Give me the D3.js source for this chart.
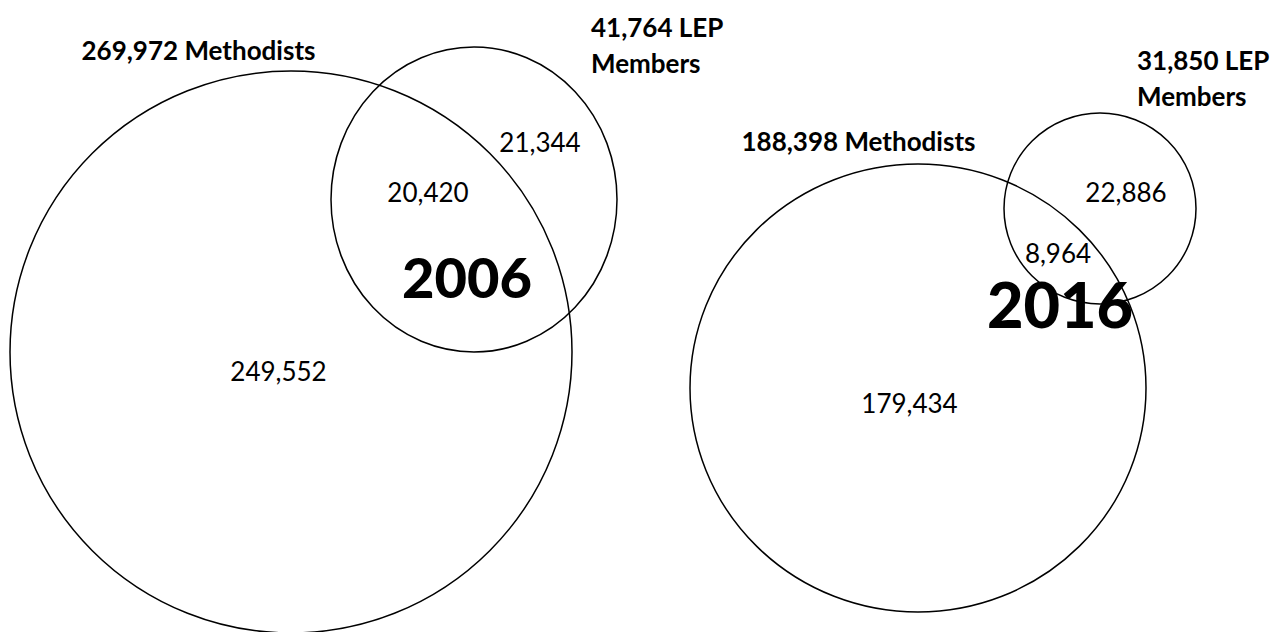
<!DOCTYPE html>
<html>
<head>
<meta charset="utf-8">
<script src="https://cdn.jsdelivr.net/npm/d3@7"></script>
<style>
    body { margin: 0; background: #fff; }
    svg { display: block; }
    .ring { fill: none; stroke: #000; stroke-width: 1.5; }
    .set-label { font-family: Lato, "Open Sans", sans-serif; font-weight: bold; font-size: 26px; fill: #000; }
    .count { font-family: Lato, "Open Sans", sans-serif; font-size: 26px; fill: #000; }
    .year { font-family: Lato, "Open Sans", sans-serif; font-weight: 900; fill: #000; }
</style>
</head>
<body>
<svg width="1280" height="632"></svg>
<script>
// Data, one entry per year
var years = ["2006", "2016"];
var methodists = [269972, 188398];
var lepMembers = [41764, 31850];
var methodistOnly = [249552, 179434];
var overlap = [20420, 8964];
var lepOnly = [21344, 22886];

// Layout in design units (the picture's own grid)
var bigRing = [
    { cx: 291, cy: 352, rx: 281, ry: 281 },
    { cx: 918, cy: 388, rx: 228, ry: 224 }
];
var smallRing = [
    { cx: 474, cy: 199.5, rx: 143, ry: 152.5 },
    { cx: 1100, cy: 208.5, rx: 96, ry: 95.5 }
];
var methodistLabelAt = [[198.5, 60], [858.5, 151]];
var lepLabelAt = [[591, 37], [1137, 70]];
var methodistOnlyAt = [[278.5, 381], [909.5, 413]];
var overlapAt = [[428, 202], [1058, 263]];
var lepOnlyAt = [[540, 152], [1126, 202]];
var yearAt = [[467, 298], [1060, 328]];
var yearSize = [56, 63];

var svg = d3.select("svg"),
    width = +svg.attr("width"),
    height = +svg.attr("height");

var x = d3.scaleLinear().domain([0, 1280]).range([0, width]),
    y = d3.scaleLinear().domain([0, 632]).range([0, height]),
    fmt = d3.format(",");

function drawRing(g, r) {
    g.append("ellipse")
        .attr("class", "ring")
        .attr("cx", x(r.cx))
        .attr("cy", y(r.cy))
        .attr("rx", x(r.rx) - x(0))
        .attr("ry", y(r.ry) - y(0));
}

function putText(g, cls, pos, txt, anchor) {
    return g.append("text")
        .attr("class", cls)
        .attr("x", x(pos[0]))
        .attr("y", y(pos[1]))
        .attr("text-anchor", anchor || "middle")
        .text(txt);
}

years.forEach(function (yr, i) {
    var g = svg.append("g").attr("class", "venn-" + yr);

    drawRing(g, bigRing[i]);
    drawRing(g, smallRing[i]);

    putText(g, "set-label", methodistLabelAt[i], fmt(methodists[i]) + " Methodists");

    // LEP label wraps on two lines
    var t = putText(g, "set-label", lepLabelAt[i], "", "start");
    t.append("tspan").attr("x", x(lepLabelAt[i][0])).text(fmt(lepMembers[i]) + " LEP");
    t.append("tspan").attr("x", x(lepLabelAt[i][0])).attr("dy", 36).text("Members");

    putText(g, "count", methodistOnlyAt[i], fmt(methodistOnly[i]));
    putText(g, "count", overlapAt[i], fmt(overlap[i]));
    putText(g, "count", lepOnlyAt[i], fmt(lepOnly[i]));
    putText(g, "year", yearAt[i], yr).style("font-size", yearSize[i] + "px");
});
</script>
</body>
</html>
